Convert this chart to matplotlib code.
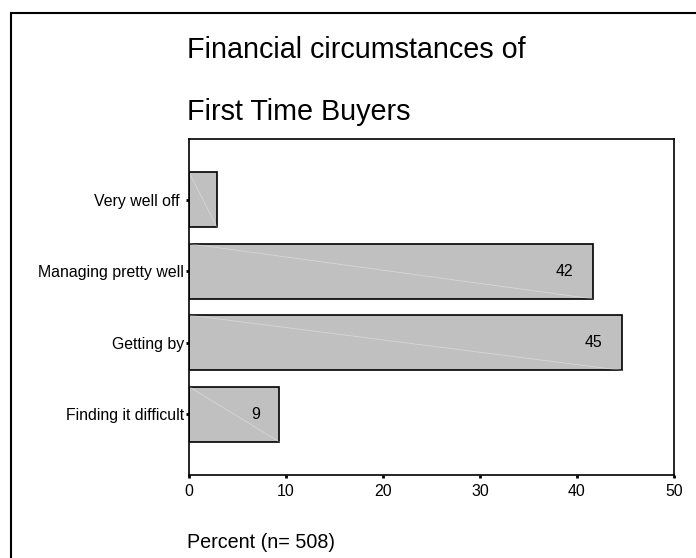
import matplotlib
matplotlib.use("Agg")
import matplotlib.pyplot as plt
from matplotlib.patches import Rectangle

plt.rcParams['font.family'] = ['Liberation Sans', 'DejaVu Sans']

categories = ["Finding it difficult", "Getting by", "Managing pretty well", "Very well off "]
percent = [9.3, 44.6, 41.6, 2.9]
labels = ["9", "45", "42", ""]

fig = plt.figure(figsize=(6.96, 5.58), dpi=100)
ax = fig.add_axes([189 / 696, 1 - 475 / 558, 485 / 696, 336 / 558])

pos = list(range(len(categories)))
bars = ax.barh(pos, percent, height=0.77, color='#c0c0c0', edgecolor='black', linewidth=1.2)

# faint diagonal streaks inside the bars
for b in bars:
    x0, y0 = b.get_x(), b.get_y()
    w, h = b.get_width(), b.get_height()
    ax.plot([x0, x0 + w], [y0 + h, y0], color='white', lw=0.6, alpha=0.35)

for p, v, lab in zip(pos, percent, labels):
    if lab:
        ax.text(v - 2.0, p, lab, ha='right', va='center', fontsize=11.4)

ax.set_xlim(0, 50)
ax.set_ylim(-0.85, 3.85)
ax.set_xticks([0, 10, 20, 30, 40, 50])
ax.set_yticks(pos)
ax.set_yticklabels(categories)
ax.tick_params(axis='both', length=2.5, width=2, labelsize=11.4, direction='out')
ax.tick_params(axis='x', pad=4)
ax.tick_params(axis='y', pad=1)
for s in ax.spines.values():
    s.set_linewidth(1.2)

fig.text(187 / 696, 1 - 50 / 558, "Financial circumstances of", fontsize=20.7, va='center', ha='left')
fig.text(187 / 696, 1 - 112 / 558, "First Time Buyers", fontsize=20.7, va='center', ha='left')
fig.text(187 / 696, 1 - 543 / 558, "Percent (n= 508)", fontsize=14.2, va='center', ha='left')

# outer frame, runs off the right and bottom edge
fig.patches.append(Rectangle((11 / 696, -0.05), 1.0, 1 - 13 / 558 + 0.05,
                             transform=fig.transFigure, fill=False,
                             edgecolor='black', linewidth=1.5))

fig.savefig("out.png", dpi=100)
